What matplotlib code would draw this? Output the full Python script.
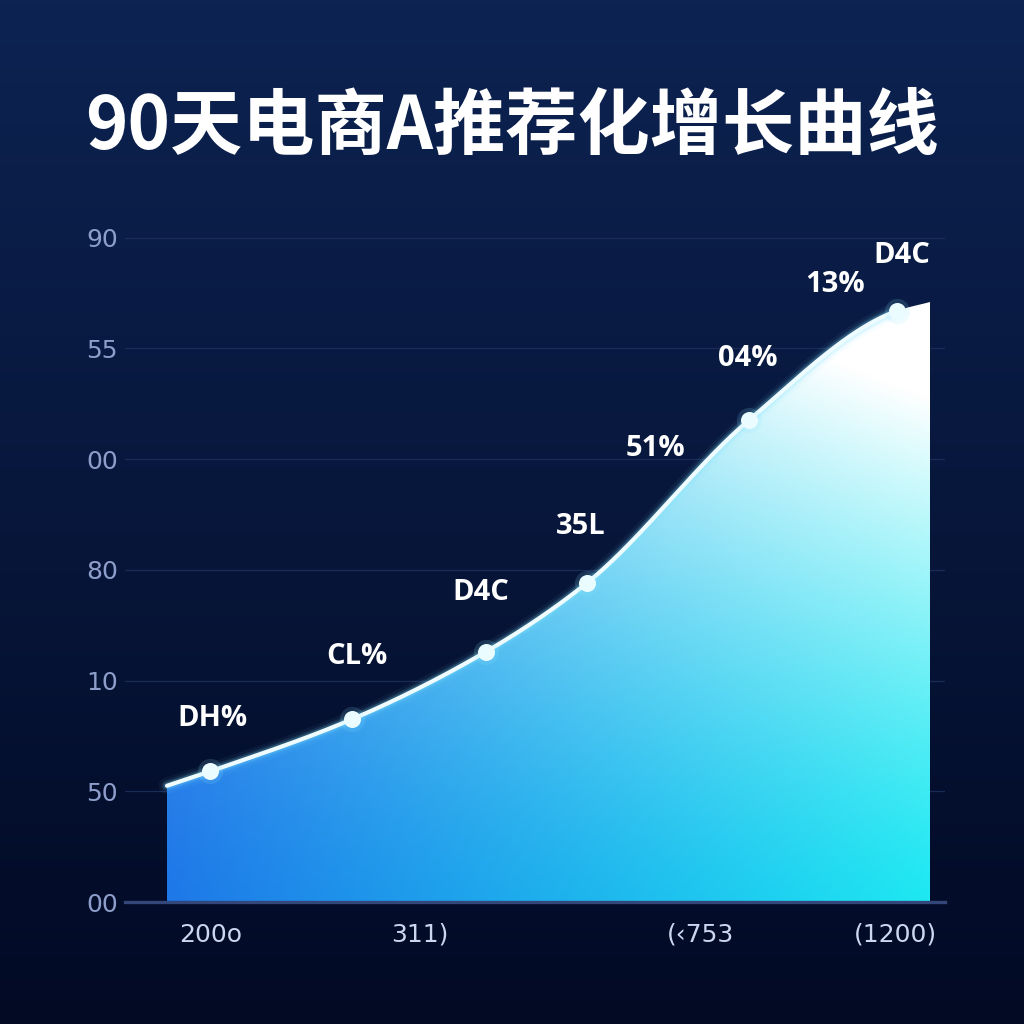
import numpy as np
import matplotlib
matplotlib.use("Agg")
from matplotlib import pyplot as plt

# data (x = day, y = level on the 7-step axis)
title = "90天电商A推荐化增长曲线"
curve_x = [0, 5.1, 21.8, 37.6, 49.5, 68.6, 86.1, 90]
curve_y = [1.05, 1.18, 1.65, 2.26, 2.88, 4.35, 5.34, 5.42]
point_x = [5.1, 21.8, 37.6, 49.5, 68.6, 86.1]
point_y = [1.18, 1.65, 2.26, 2.88, 4.35, 5.34]
point_labels = ["DH%", "CL%", "D4C", "35L", "51%", "04%", "13%", "D4C"]
label_point = [0, 1, 2, 3, 3, 4, 5, 5]
ytick_labels = ["00", "50", "10", "80", "00", "55", "90"]
xtick_pos = [5.1, 29.8, 62.9, 85.9]
xtick_labels = ["200o", "311)", "(‹753", "(1200)"]

# label offsets in pixels from their point
label_off = [(2, 53), (5, 63), (-5, 59), (-6, 57), (69, 135), (-1, 62), (-62, 26), (5, 55)]

plt.rcParams['font.family'] = ['Noto Sans CJK SC', 'DejaVu Sans']


def pchip(x, y, xs):
    x = np.asarray(x, float)
    y = np.asarray(y, float)
    h = np.diff(x)
    d = np.diff(y) / h
    m = np.zeros_like(y)
    for k in range(1, len(x) - 1):
        if d[k - 1] * d[k] > 0:
            w1 = 2 * h[k] + h[k - 1]
            w2 = h[k] + 2 * h[k - 1]
            m[k] = (w1 + w2) / (w1 / d[k - 1] + w2 / d[k])
    m[0] = d[0]
    m[-1] = d[-1]
    out = np.empty_like(xs)
    for i, v in enumerate(xs):
        k = min(np.searchsorted(x, v, side='right') - 1, len(x) - 2)
        k = max(k, 0)
        t = (v - x[k]) / h[k]
        h00 = 2 * t**3 - 3 * t**2 + 1
        h10 = t**3 - 2 * t**2 + t
        h01 = -2 * t**3 + 3 * t**2
        h11 = t**3 - t**2
        out[i] = h00 * y[k] + h10 * h[k] * m[k] + h01 * y[k + 1] + h11 * h[k] * m[k + 1]
    return out


fig = plt.figure(figsize=(10.24, 10.24), dpi=100)

# background
bg = fig.add_axes([0, 0, 1, 1])
bg.axis('off')
top = np.array([0x0d, 0x23, 0x52]) / 255
bot = np.array([0x02, 0x0a, 0x24]) / 255
t = np.linspace(0, 1, 256)[:, None]
grad = (1 - t) * top + t * bot
grad = np.repeat(grad[:, None, :], 2, axis=1)
bg.imshow(grad, aspect='auto', extent=[0, 1, 0, 1])
bg.set_xlim(0, 1)
bg.set_ylim(0, 1)

fig.text(0.5, 1 - 128 / 1024, title, ha='center', va='center', color='white',
         fontsize=52, fontweight='bold')

# main axes: x=0 at px 167, x=90 at px 930; y=0 at px 902, 1 unit = 110.7 px
sx = (930 - 167) / 90
sy = 110.7
left_px, right_px = 125, 945
bottom_px, top_px = 902, 200
ax = fig.add_axes([left_px / 1024, 1 - bottom_px / 1024,
                   (right_px - left_px) / 1024, (bottom_px - top_px) / 1024])
ax.set_facecolor('none')
ax.set_xlim((left_px - 167) / sx, (right_px - 167) / sx)
ax.set_ylim(0, (bottom_px - top_px) / sy)

for s in ['top', 'right', 'left']:
    ax.spines[s].set_visible(False)
ax.spines['bottom'].set_color('#34477a')
ax.spines['bottom'].set_linewidth(2.4)

ax.set_yticks(range(len(ytick_labels)))
ax.set_yticklabels(ytick_labels, color='#8d9ecb', fontsize=18, family='DejaVu Sans')
ax.tick_params(axis='y', length=0, pad=5)
ax.set_xticks(xtick_pos)
ax.set_xticklabels(xtick_labels, color='#cdd6ee', fontsize=18, family='DejaVu Sans')
ax.tick_params(axis='x', length=0, pad=15)
for yv in range(1, len(ytick_labels)):
    ax.axhline(yv, color='#1a2b58', lw=0.9, zorder=0)

# smooth curve
xs = np.linspace(curve_x[0], curve_x[-1], 400)
ys = pchip(curve_x, curve_y, xs)

poly = ax.fill_between(xs, 0, ys, color='none', lw=0)
# gradient for the area
gx = np.linspace(curve_x[0], curve_x[-1], 300)
gy = np.linspace(0, max(curve_y), 300)
GX, GY = np.meshgrid(gx, gy)
blue = np.array([0x1e, 0x78, 0xe8]) / 255
cyan = np.array([0x1e, 0xe8, 0xf2]) / 255
tx = (GX / curve_x[-1])[..., None]
base = (1 - tx) * blue + tx * cyan
w = np.clip(GY / max(curve_y), 0, 1) ** 1.3
w = (w * (0.3 + 0.7 * GX / curve_x[-1]))[..., None] * 1.25
w = np.clip(w, 0, 1)
img = (1 - w) * base + w * np.array([1.0, 1.0, 1.0])
im = ax.imshow(img, origin='lower', aspect='auto',
               extent=[gx[0], gx[-1], 0, gy[-1]], zorder=1)
im.set_clip_path(poly.get_paths()[0], transform=ax.transData)

# glowing line
line_end = point_x[-1]
mask = xs <= line_end + 0.01
for lw, a in [(12, 0.05), (8, 0.1), (5.5, 0.2)]:
    ax.plot(xs[mask], ys[mask], color='#7fe6ff', lw=lw, alpha=a, zorder=3,
            solid_capstyle='round')
ax.plot(xs[mask], ys[mask], color='#effcff', lw=3, zorder=4, solid_capstyle='round')

# points
ax.scatter(point_x, point_y, s=330, color='#8fe8ff', alpha=0.15, zorder=5, lw=0)
ax.scatter(point_x, point_y, s=150, color='#eafcff', zorder=6, lw=0)

for lab, pi, off in zip(point_labels, label_point, label_off):
    ax.annotate(lab, (point_x[pi], point_y[pi]), xytext=off, textcoords='offset pixels',
                ha='center', va='center', color='white', fontsize=21,
                fontweight='bold', family=['Open Sans', 'DejaVu Sans'], zorder=7)

fig.savefig('out.png', dpi=100)
